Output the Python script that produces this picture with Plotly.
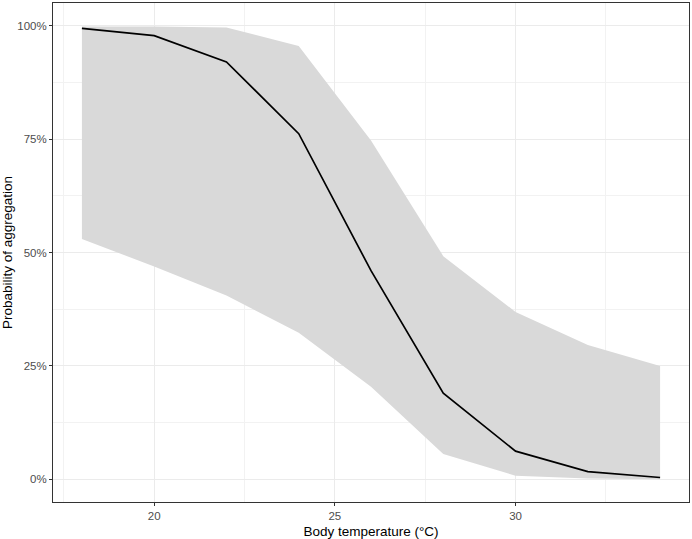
import plotly.graph_objects as go

temperature = [18, 20, 22, 24, 26, 28, 30, 32, 34]
probability = [0.994, 0.978, 0.920, 0.762, 0.460, 0.190, 0.062, 0.017, 0.004]
upper = [0.998, 0.998, 0.996, 0.955, 0.747, 0.492, 0.369, 0.296, 0.250]
lower = [0.530, 0.469, 0.405, 0.323, 0.204, 0.056, 0.008, 0.002, 0.000]

fig = go.Figure()
fig.add_trace(go.Scatter(
    x=temperature + temperature[::-1],
    y=upper + lower[::-1],
    fill="toself", fillcolor="#D9D9D9", line=dict(width=0),
    mode="lines", hoverinfo="skip", showlegend=False))
fig.add_trace(go.Scatter(
    x=temperature, y=probability, mode="lines",
    line=dict(color="black", width=1.7), showlegend=False))

axis_common = dict(
    showline=True, linecolor="#333333", linewidth=1, mirror=True,
    ticks="outside", ticklen=3, tickcolor="#333333", tickwidth=1,
    gridcolor="#EBEBEB", gridwidth=1, zeroline=False,
    tickfont=dict(family="Liberation Sans, Arial, sans-serif", size=11.5, color="#4D4D4D"),
)
fig.update_xaxes(
    range=[17.2, 34.8], tick0=20, dtick=5,
    minor=dict(dtick=2.5, tick0=20, showgrid=True, gridcolor="#F2F2F2", gridwidth=0.6),
    title=dict(text="Body temperature (°C)", standoff=6,
               font=dict(family="Liberation Sans, Arial, sans-serif", size=13.5, color="black")),
    **axis_common)
fig.update_yaxes(
    range=[-0.05, 1.05], tick0=0, dtick=0.25, tickformat=".0%",
    minor=dict(dtick=0.125, tick0=0, showgrid=True, gridcolor="#F2F2F2", gridwidth=0.6),
    title=dict(text="Probability of aggregation", standoff=6,
               font=dict(family="Liberation Sans, Arial, sans-serif", size=13.5, color="black")),
    **axis_common)
fig.update_layout(
    width=692, height=539,
    margin=dict(l=52, r=3, t=2, b=36),
    plot_bgcolor="white", paper_bgcolor="white",
)
fig.write_html("out.html")
